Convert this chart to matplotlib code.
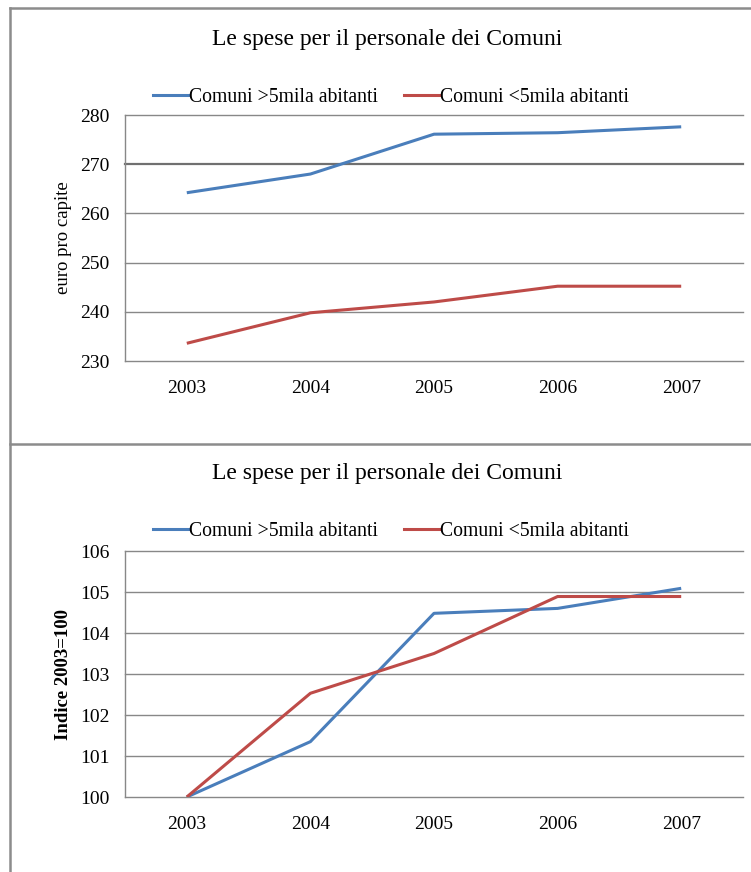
import matplotlib
matplotlib.use("Agg")
import matplotlib.pyplot as plt
from matplotlib.lines import Line2D

plt.rcParams['font.family'] = ['Liberation Serif', 'DejaVu Serif']

# dati
anni = ['2003', '2004', '2005', '2006', '2007']
serie_grandi = 'Comuni >5mila abitanti'
serie_piccoli = 'Comuni <5mila abitanti'

euro_grandi = [264.2, 268.0, 276.1, 276.4, 277.6]
euro_piccoli = [233.6, 239.8, 242.0, 245.2, 245.2]

indice_grandi = [100.0, 101.35, 104.48, 104.6, 105.09]
indice_piccoli = [100.0, 102.53, 103.5, 104.89, 104.89]

titolo = 'Le spese per il personale dei Comuni'

BLU = '#4a7ebb'
ROSSO = '#be4b48'
GRIGIO = '#888888'

W, H = 751, 872
fig = plt.figure(figsize=(W / 100, H / 100), dpi=100)


def px_box(x0, y0, x1, y1):
    # pixel (dall'alto) -> coordinate figura
    return [x0 / W, 1 - y1 / H, (x1 - x0) / W, (y1 - y0) / H]


def grafico(box, y1, y2, ylim, yticks, ylabel, bold_label, title_y, leg_y, heavy=None):
    ax = fig.add_axes(px_box(*box))
    x = range(len(anni))
    ax.plot(x, y1, color=BLU, lw=2.2, solid_capstyle='butt')
    ax.plot(x, y2, color=ROSSO, lw=2.2, solid_capstyle='butt')
    ax.set_xlim(-0.5, len(anni) - 0.5)
    ax.set_ylim(*ylim)
    ax.set_yticks(yticks)
    ax.set_xticks(list(x))
    ax.set_xticklabels(anni)
    for s in ['top', 'right', 'bottom']:
        ax.spines[s].set_visible(False)
    ax.spines['left'].set_color(GRIGIO)
    ax.spines['left'].set_linewidth(1.0)
    for t in yticks:
        lw = 1.0
        col = GRIGIO
        if heavy is not None and t == heavy:
            lw, col = 1.6, '#707070'
        ax.axhline(t, color=col, lw=lw, zorder=0, clip_on=False)
    ax.tick_params(axis='both', length=0, labelsize=14, colors='black')
    ax.tick_params(axis='x', pad=14)
    ax.tick_params(axis='y', pad=11)
    ax.set_ylabel(ylabel, fontsize=13.5, fontweight='bold' if bold_label else 'normal',
                  labelpad=6)
    fig.text(387 / W, 1 - title_y / H, titolo, ha='center', va='center', fontsize=17)
    handles = [Line2D([], [], color=BLU, lw=2.2), Line2D([], [], color=ROSSO, lw=2.2)]
    fig.legend(handles, [serie_grandi, serie_piccoli], ncol=2, frameon=False,
               loc='center', bbox_to_anchor=(391 / W, 1 - leg_y / H),
               fontsize=14.2, handlelength=1.8, handletextpad=0.05, columnspacing=1.3)
    return ax


grafico((125, 115, 743, 361), euro_grandi, euro_piccoli, (230, 280),
        [230, 240, 250, 260, 270, 280], 'euro pro capite', False, 40, 97, heavy=270)
grafico((125, 551, 743, 797), indice_grandi, indice_piccoli, (100, 106),
        [100, 101, 102, 103, 104, 105, 106], 'Indice 2003=100', True, 473, 531)

# cornici dei riquadri
bordo = dict(color='#8c8c8c', lw=1.8, transform=fig.transFigure)
fig.add_artist(Line2D([10 / W, 10 / W], [0, 1 - 8 / H], **bordo))
fig.add_artist(Line2D([10 / W, 1], [1 - 8 / H, 1 - 8 / H], **bordo))
fig.add_artist(Line2D([10 / W, 1], [1 - 444 / H, 1 - 444 / H], **bordo))

fig.savefig('out.png', dpi=100, facecolor='white')
